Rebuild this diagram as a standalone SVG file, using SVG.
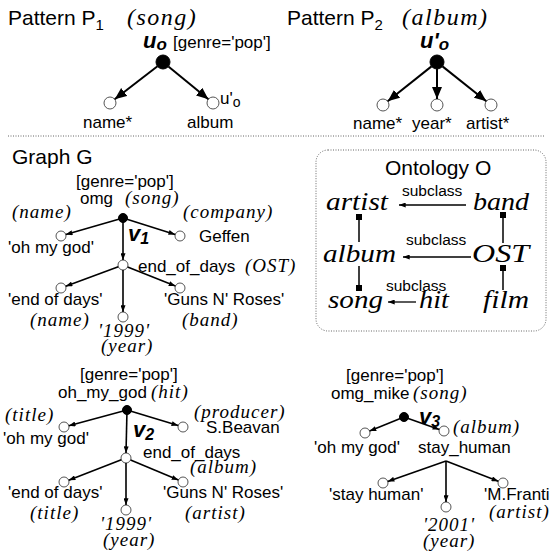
<svg xmlns="http://www.w3.org/2000/svg" width="552" height="552" viewBox="0 0 552 552">
<defs>
<style>
.s{font-family:"Liberation Sans",Arial,sans-serif;font-size:17px;fill:#000}
.t{font-family:"Liberation Serif","Times New Roman",serif;font-style:italic;font-size:19px;letter-spacing:1px;fill:#000}
.h{font-family:"Liberation Sans",Arial,sans-serif;font-size:21px;fill:#000}
.ht{font-family:"Liberation Serif","Times New Roman",serif;font-style:italic;font-size:24px;letter-spacing:1.5px;fill:#000}
.o{font-family:"Liberation Serif","Times New Roman",serif;font-style:italic;font-size:25px;fill:#000}
.sc{font-family:"Liberation Sans",Arial,sans-serif;font-size:15.5px;fill:#000}
.b{font-family:"Liberation Sans",Arial,sans-serif;font-weight:bold;font-style:italic;font-size:22px;fill:#000}
.pe{stroke:#000;stroke-width:2;fill:none;marker-end:url(#ap)}
.ge{stroke:#000;stroke-width:1.6;fill:none;marker-end:url(#ag)}
.oe{stroke:#000;stroke-width:1.3;fill:none;marker-end:url(#ao)}
.ol{stroke:#000;stroke-width:1.5;fill:none}
.oc{fill:#fff;stroke:#555;stroke-width:1}
.fc{fill:#000;stroke:#000}
</style>
<marker id="ap" viewBox="0 0 12 10" refX="12" refY="5" markerWidth="12" markerHeight="10" markerUnits="userSpaceOnUse" orient="auto"><path d="M0,0 L12,5 L0,10 z" fill="#000"/></marker>
<marker id="ag" viewBox="0 0 8 6" refX="8" refY="3" markerWidth="7" markerHeight="5" markerUnits="userSpaceOnUse" orient="auto"><path d="M0,0 L8,3 L0,6 z" fill="#000"/></marker>
<marker id="ao" viewBox="0 0 8 6" refX="8" refY="3" markerWidth="7" markerHeight="5" markerUnits="userSpaceOnUse" orient="auto"><path d="M0,0 L8,3 L0,6 z" fill="#000"/></marker>
</defs>
<rect width="552" height="552" fill="#fff"/>

<!-- Pattern P1 -->
<g id="patternP1">
<text class="h" x="8" y="25">Pattern P<tspan font-size="15" dy="5">1</tspan></text>
<text class="ht" x="127" y="25">(song)</text>
<text class="b" x="143" y="48">u<tspan font-size="17" dy="2">o</tspan></text>
<text class="s" x="173" y="48" font-size="16">[genre='pop']</text>
</g>
<g id="p1_name"><circle class="oc" cx="110" cy="103" r="6"/><text class="s" x="83" y="128">name*</text></g>
<g id="p1_album"><circle class="oc" cx="213" cy="103" r="6"/><text class="s" x="187" y="128">album</text><text class="s" x="220" y="104" font-size="16">u'<tspan font-size="14" dy="3">o</tspan></text></g>
<g id="p1_root"><circle class="fc" cx="163" cy="62" r="7"/></g>

<!-- Pattern P2 -->
<g id="patternP2">
<text class="h" x="287" y="25">Pattern P<tspan font-size="15" dy="5">2</tspan></text>
<text class="ht" x="402" y="25">(album)</text>
<text class="b" x="420" y="48">u'<tspan font-size="17" dy="2">o</tspan></text>
</g>
<g id="p2_root"><circle class="fc" cx="437" cy="62" r="7"/></g>
<g id="p2_name"><circle class="oc" cx="383" cy="105" r="6"/><text class="s" x="353" y="129">name*</text></g>
<g id="p2_year"><circle class="oc" cx="437" cy="105" r="6"/><text class="s" x="412" y="129">year*</text></g>
<g id="p2_artist"><circle class="oc" cx="491" cy="105" r="6"/><text class="s" x="466" y="129">artist*</text></g>

<line x1="8" y1="136" x2="545" y2="136" stroke="#666" stroke-width="1" stroke-dasharray="1,1.5"/>

<text class="h" x="12" y="164" font-size="20">Graph G</text>

<!-- Graph v1 -->
<g id="v1">
<text class="s" x="76" y="187">[genre='pop']</text>
<text class="s" x="80" y="204">omg</text>
<text class="t" x="125" y="204">(song)</text>
<circle class="fc" cx="123" cy="218" r="4.5"/>
<text class="b" x="128" y="241">v<tspan font-size="16" dy="3">1</tspan></text>
</g>
<g id="v1_name"><circle class="oc" cx="61" cy="236" r="5"/><text class="t" x="12" y="218">(name)</text><text class="s" x="8" y="253">'oh my god'</text></g>
<g id="v1_company"><circle class="oc" cx="180" cy="236" r="5"/><text class="t" x="183" y="218">(company)</text><text class="s" x="199" y="242">Geffen</text></g>
<g id="v1_eod"><circle class="oc" cx="123" cy="265" r="5"/><text class="s" x="138" y="272">end_of_days</text><text class="t" x="245" y="272">(OST)</text></g>
<g id="v1_eodname"><circle class="oc" cx="61" cy="288" r="5"/><text class="s" x="8" y="305">'end of days'</text><text class="t" x="30" y="326">(name)</text></g>
<g id="v1_band"><circle class="oc" cx="180" cy="288" r="5"/><text class="s" x="164" y="305">'Guns N' Roses'</text><text class="t" x="182" y="326">(band)</text></g>
<g id="v1_year"><circle class="oc" cx="123" cy="317" r="5"/><text class="t" x="98" y="337">'1999'</text><text class="t" x="101" y="352">(year)</text></g>

<!-- Ontology -->
<g id="ontology">
<rect x="316" y="150" width="230" height="181" rx="12" fill="none" stroke="#666" stroke-width="1" stroke-dasharray="1,1.5"/>
<text class="h" x="385" y="175" font-size="20">Ontology O</text>
</g>
<g id="o_artist"><text class="o" x="326" y="210" textLength="62" lengthAdjust="spacingAndGlyphs">artist</text></g>
<g id="o_band"><text class="o" x="473" y="210" textLength="56" lengthAdjust="spacingAndGlyphs">band</text></g>
<g id="o_album"><text class="o" x="323" y="262" textLength="73" lengthAdjust="spacingAndGlyphs">album</text></g>
<g id="o_OST"><text class="o" x="472" y="262" textLength="57" lengthAdjust="spacingAndGlyphs">OST</text></g>
<g id="o_song"><text class="o" x="328" y="308" textLength="55" lengthAdjust="spacingAndGlyphs">song</text></g>
<g id="o_hit"><text class="o" x="419" y="308" textLength="30" lengthAdjust="spacingAndGlyphs">hit</text></g>
<g id="o_film"><text class="o" x="483" y="308" textLength="46" lengthAdjust="spacingAndGlyphs">film</text></g>
<g id="o_links">
<line class="oe" x1="466" y1="205" x2="399" y2="205"/>
<text class="sc" x="402" y="196">subclass</text>
<line class="oe" x1="471" y1="257" x2="403" y2="257"/>
<text class="sc" x="406" y="245">subclass</text>
<line class="oe" x1="416" y1="302" x2="388" y2="302"/>
<text class="sc" x="386" y="291">subclass</text>
<line class="ol" x1="359" y1="217" x2="359" y2="242"/>
<rect x="356" y="214" width="6" height="6" fill="#000"/>
<line class="ol" x1="359" y1="266" x2="359" y2="288"/>
<rect x="356" y="285" width="6" height="6" fill="#000"/>
<line class="ol" x1="503" y1="215" x2="503" y2="243"/>
<rect x="500" y="212" width="6" height="6" fill="#000"/>
<line class="ol" x1="503" y1="268" x2="503" y2="290"/>
<rect x="500" y="265" width="6" height="6" fill="#000"/>
</g>

<!-- Graph v2 -->
<g id="v2">
<text class="s" x="80" y="380">[genre='pop']</text>
<text class="s" x="58" y="398">oh_my_god</text>
<text class="t" x="151" y="398">(hit)</text>
<circle class="fc" cx="127" cy="410" r="4.5"/>
<text class="b" x="133" y="437">v<tspan font-size="16" dy="3">2</tspan></text>
</g>
<g id="v2_title"><circle class="oc" cx="64" cy="427" r="5"/><text class="t" x="5" y="421">(title)</text><text class="s" x="3" y="444">'oh my god'</text></g>
<g id="v2_producer"><circle class="oc" cx="183" cy="427" r="5"/><text class="t" x="194" y="418">(producer)</text><text class="s" x="206" y="433">S.Beavan</text></g>
<g id="v2_eod"><circle class="oc" cx="126" cy="458" r="5"/><text class="s" x="143" y="458">end_of_days</text><text class="t" x="190" y="473">(album)</text></g>
<g id="v2_eodtitle"><circle class="oc" cx="64" cy="482" r="5"/><text class="s" x="8" y="498">'end of days'</text><text class="t" x="30" y="519">(title)</text></g>
<g id="v2_artist"><circle class="oc" cx="183" cy="482" r="5"/><text class="s" x="163" y="498">'Guns N' Roses'</text><text class="t" x="185" y="519">(artist)</text></g>
<g id="v2_year"><circle class="oc" cx="126" cy="510" r="5"/><text class="t" x="100" y="530">'1999'</text><text class="t" x="103" y="546">(year)</text></g>

<!-- Graph v3 -->
<g id="v3">
<text class="s" x="346" y="381">[genre='pop']</text>
<text class="s" x="331" y="399">omg_mike</text>
<text class="t" x="413" y="399">(song)</text>
<circle class="fc" cx="404" cy="417" r="4.5"/>
<text class="b" x="419" y="424">v<tspan font-size="16" dy="3">3</tspan></text>
</g>
<g id="v3_name"><circle class="oc" cx="365" cy="433" r="5"/><text class="s" x="314" y="453">'oh my god'</text></g>
<g id="v3_album"><circle class="oc" cx="444" cy="431" r="5"/><text class="t" x="453" y="433">(album)</text><text class="s" x="418" y="453">stay_human</text></g>
<g id="v3_title"><circle class="oc" cx="383" cy="483" r="5"/><text class="s" x="329" y="500">'stay human'</text></g>
<g id="v3_artist"><circle class="oc" cx="503" cy="483" r="5"/><text class="s" x="484" y="500">'M.Franti</text><text class="t" x="489" y="518">(artist)</text></g>
<g id="v3_year"><circle class="oc" cx="446" cy="507" r="5"/><text class="t" x="423" y="531">'2001'</text><text class="t" x="423" y="547">(year)</text></g>

<!-- connectors -->
<g id="connectors">
<line class="pe" x1="157.5" y1="66.3" x2="114.7" y2="99.3"/>
<line class="pe" x1="168.4" y1="66.4" x2="208.4" y2="99.2"/>
<line class="pe" x1="431.5" y1="66.4" x2="387.7" y2="101.3"/>
<line class="pe" x1="437" y1="69" x2="437" y2="99"/>
<line class="pe" x1="442.5" y1="66.4" x2="486.3" y2="101.3"/>

<line class="ge" x1="123" y1="218" x2="65.8" y2="234.6"/>
<line class="ge" x1="123" y1="218" x2="175.2" y2="234.5"/>
<line class="ge" x1="123" y1="218" x2="123" y2="260"/>
<line class="ge" x1="118.3" y1="266.7" x2="65.7" y2="286.3"/>
<line class="ge" x1="127.6" y1="266.9" x2="175.4" y2="286.1"/>
<line class="ge" x1="123" y1="270" x2="123" y2="312"/>

<line class="ge" x1="127" y1="410" x2="68.8" y2="425.7"/>
<line class="ge" x1="127" y1="410" x2="178.2" y2="425.5"/>
<line class="ge" x1="127" y1="410" x2="126" y2="453"/>
<line class="ge" x1="121.3" y1="459.8" x2="68.7" y2="480.2"/>
<line class="ge" x1="130.6" y1="459.9" x2="178.4" y2="480.1"/>
<line class="ge" x1="126" y1="463" x2="126" y2="505"/>

<line class="ge" x1="404" y1="417" x2="369.6" y2="431.1"/>
<line class="ge" x1="404" y1="417" x2="439.3" y2="429.4"/>
<line class="ge" x1="446" y1="461" x2="387.7" y2="481.4"/>
<line class="ge" x1="446" y1="461" x2="498.3" y2="481.2"/>
<line class="ge" x1="446" y1="461" x2="446" y2="502"/>
</g>
</svg>
